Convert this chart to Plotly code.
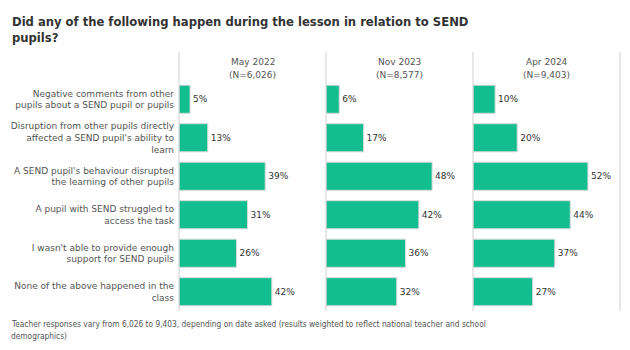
import plotly.graph_objects as go

categories = [
    "Negative comments from other<br>pupils about a SEND pupil or pupils",
    "Disruption from other pupils directly<br>affected a SEND pupil's ability to<br>learn",
    "A SEND pupil's behaviour disrupted<br>the learning of other pupils",
    "A pupil with SEND struggled to<br>access the task",
    "I wasn't able to provide enough<br>support for SEND pupils",
    "None of the above happened in the<br>class",
]
panels = ["May 2022", "Nov 2023", "Apr 2024"]
panel_n = ["(N=6,026)", "(N=8,577)", "(N=9,403)"]
may_2022 = [5, 13, 39, 31, 26, 42]
nov_2023 = [6, 17, 48, 42, 36, 32]
apr_2024 = [10, 20, 52, 44, 37, 27]
series = [may_2022, nov_2023, apr_2024]
title_lines = ["Did any of the following happen during the lesson in relation to SEND", "pupils?"]
footer_lines = [
    "Teacher responses vary from 6,026 to 9,403, depending on date asked (results weighted to reflect national teacher and school",
    "demographics)",
]

W, H = 630, 350
FONT = "DejaVu Sans"
FONT_C = "DejaVu Sans Condensed, DejaVu Sans"
BAR = "#12BE8F"
left_px = [179, 326, 473]
panel_w = 147
top_px, bot_px = 80, 311

fig = go.Figure()
for i, vals in enumerate(series):
    xa = "x" if i == 0 else f"x{i+1}"
    ya = "y" if i == 0 else f"y{i+1}"
    fig.add_trace(go.Bar(
        x=vals, y=categories, orientation="h",
        xaxis=xa, yaxis=ya,
        marker=dict(color=BAR, line=dict(color="#d9d9d9", width=1)),
        width=0.73,
        text=[f"{v}%" for v in vals], textposition="outside",
        textfont=dict(family=FONT, size=9, color="#333333"),
        cliponaxis=False, showlegend=False, hoverinfo="skip",
    ))

layout = dict(
    width=W, height=H, margin=dict(l=0, r=0, t=0, b=0),
    paper_bgcolor="white", plot_bgcolor="white",
    font=dict(family=FONT, color="#555555"),
)
shapes = []
annotations = []
for i in range(3):
    sx = "" if i == 0 else str(i + 1)
    x0 = left_px[i] / W
    x1 = (left_px[i] + panel_w) / W
    layout[f"xaxis{sx}"] = dict(
        domain=[x0, x1], range=[0, 66.5], visible=False, fixedrange=True,
    )
    layout[f"yaxis{sx}"] = dict(
        domain=[1 - bot_px / H, 1 - top_px / H],
        autorange="reversed", anchor=f"x{sx}",
        showticklabels=(i == 0), ticks="", showgrid=False, showline=False,
        zeroline=False,
        tickfont=dict(family=FONT, size=9, color="#555555"),
        ticklabelstandoff=4,
    )
    if i > 0:
        layout[f"yaxis{sx}"]["matches"] = "y"
    shapes.append(dict(type="line", xref=f"x{sx} domain", yref="paper",
                       x0=0, x1=0, y0=1 - 52 / H, y1=1 - bot_px / H,
                       line=dict(color="#d0d0d0", width=1)))
    for j, t in enumerate([panels[i], panel_n[i]]):
        annotations.append(dict(
            text=t, xref=f"x{sx} domain", yref="paper",
            x=0.5, y=1 - (62 + 12.5 * j) / H, xanchor="center", yanchor="middle",
            showarrow=False, font=dict(family=FONT, size=9, color="#555555"),
        ))
shapes.append(dict(type="line", xref="x3 domain", yref="paper",
                   x0=1, x1=1, y0=1 - 52 / H, y1=1 - bot_px / H,
                   line=dict(color="#d0d0d0", width=1)))
for j, t in enumerate(title_lines):
    annotations.append(dict(
        text=f"<b>{t}</b>", xref="paper", yref="paper",
        x=10 / W, y=1 - (21 + 17 * j) / H, xanchor="left", yanchor="middle",
        showarrow=False, font=dict(family=FONT_C, size=12.9, color="#333333"),
    ))
for j, t in enumerate(footer_lines):
    annotations.append(dict(
        text=t, xref="paper", yref="paper",
        x=9 / W, y=1 - (324 + 12 * j) / H, xanchor="left", yanchor="middle",
        showarrow=False, font=dict(family=FONT_C, size=8.3, color="#555555"),
    ))
layout["shapes"] = shapes
layout["annotations"] = annotations
fig.update_layout(**layout)
fig.write_html("out.html")
